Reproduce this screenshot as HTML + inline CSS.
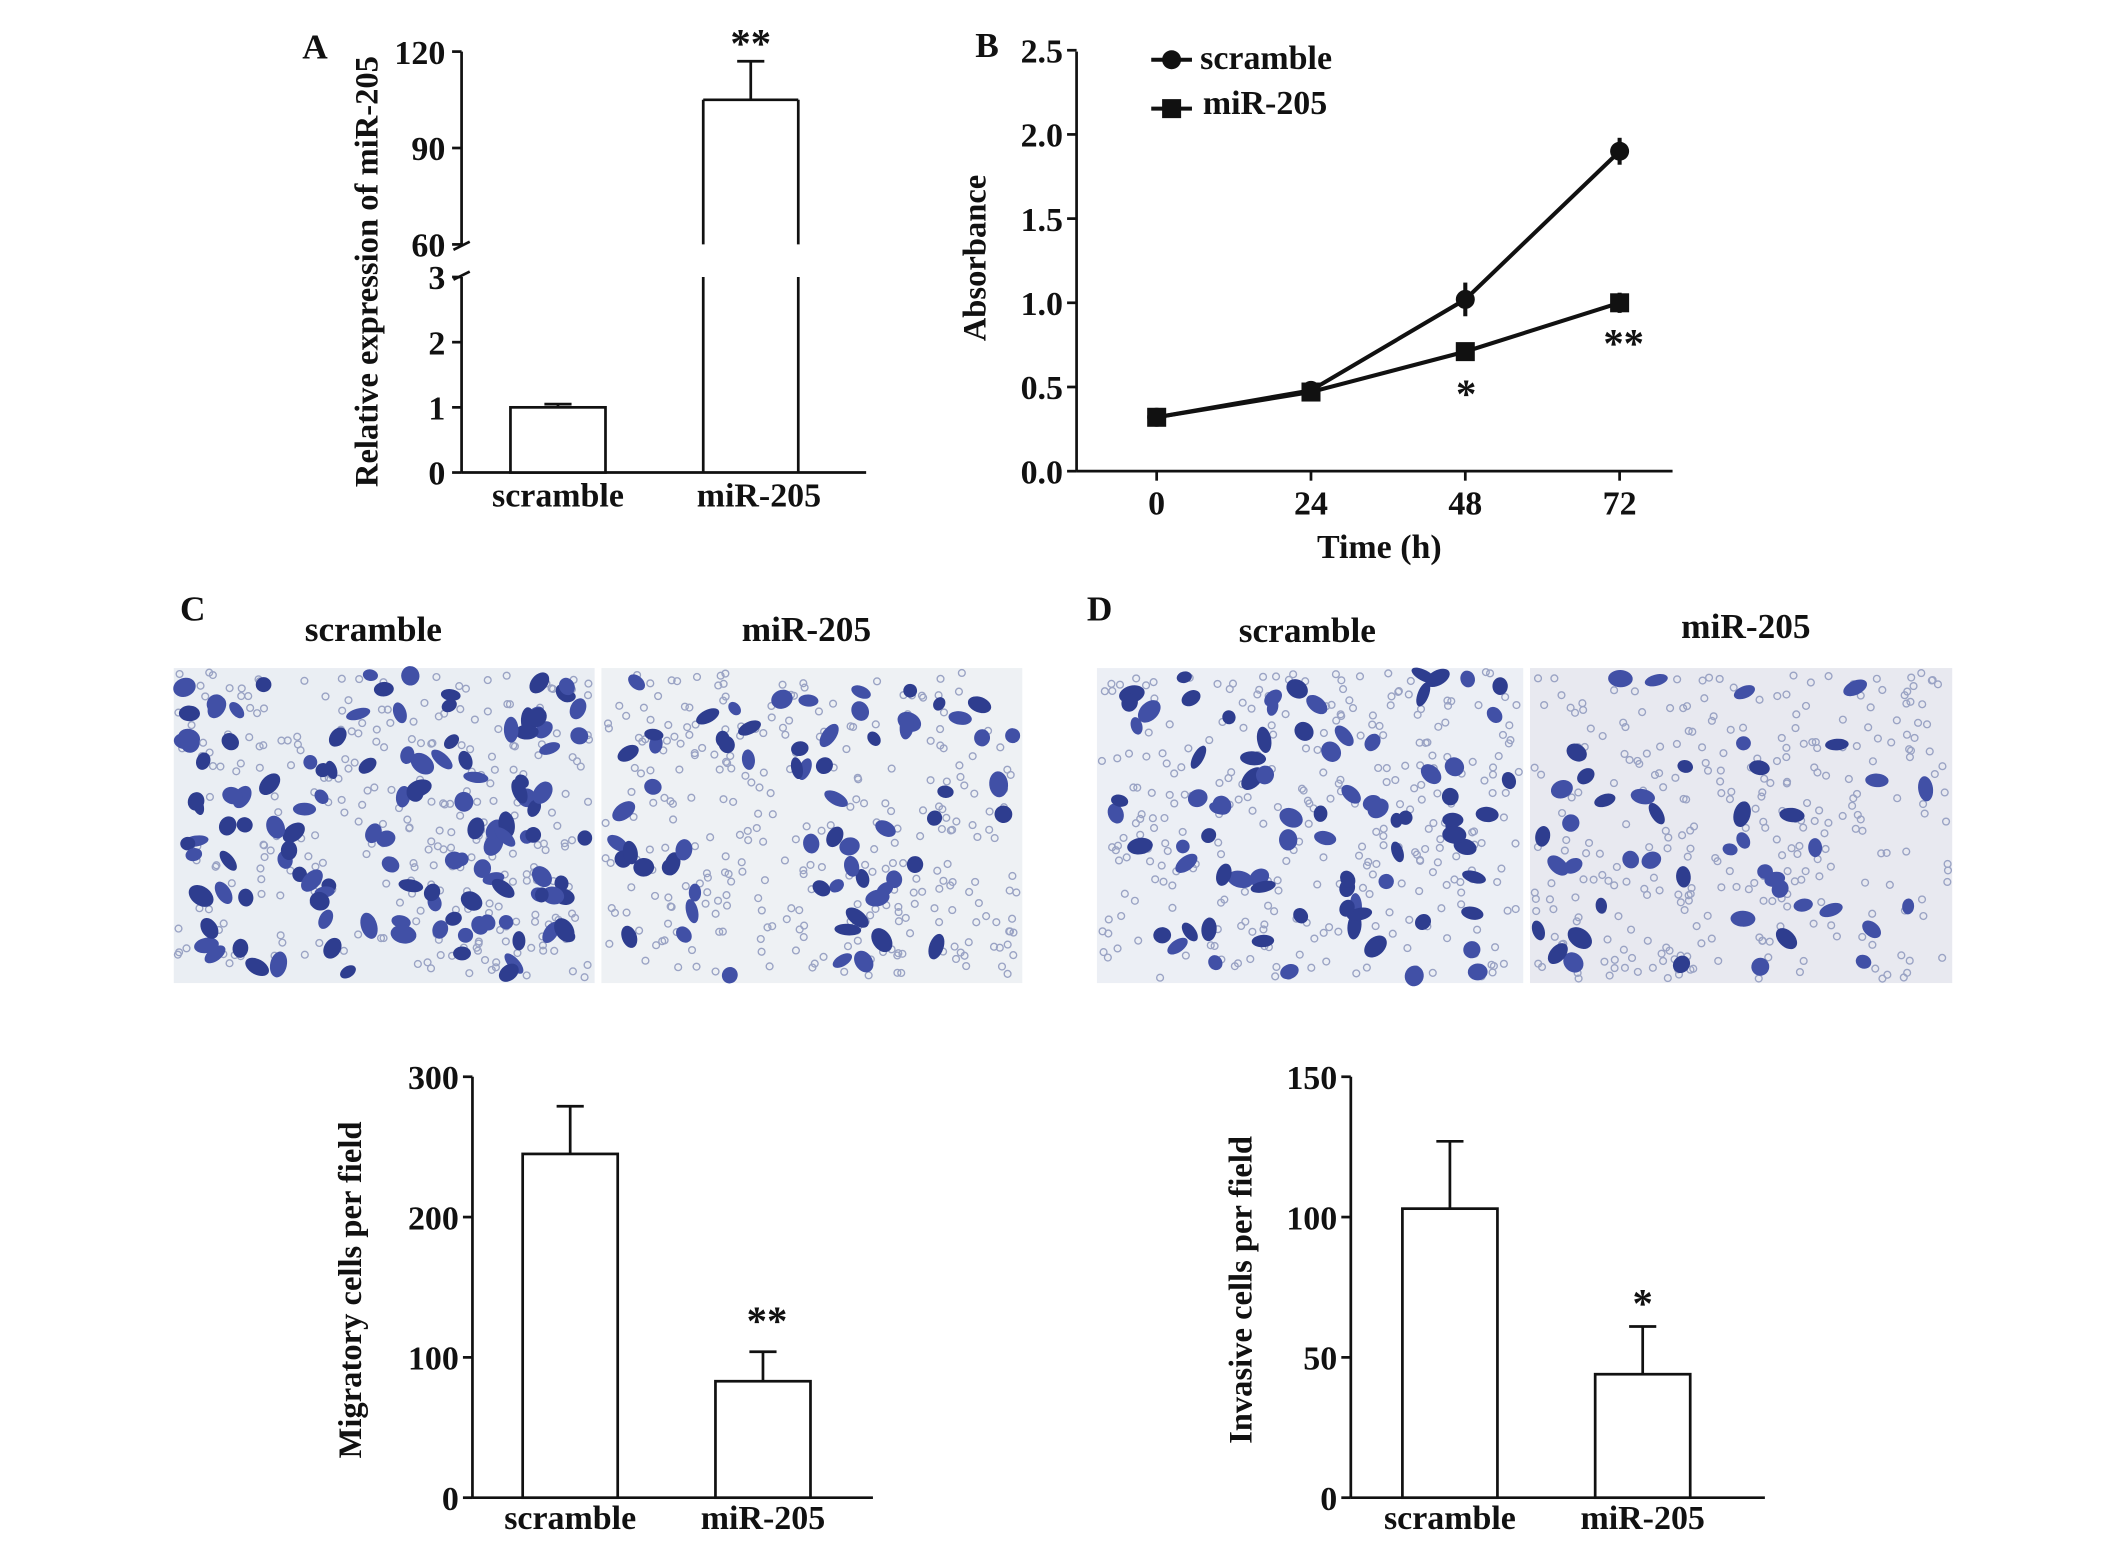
<!DOCTYPE html>
<html><head><meta charset="utf-8">
<style>
html,body{margin:0;padding:0;background:#fff;}
svg{display:block;}
text{font-family:"Liberation Serif",serif;font-weight:bold;fill:#111;}
</style></head>
<body>
<svg id="fig" width="2126" height="1552" viewBox="0 0 1566 1143" preserveAspectRatio="none" xmlns="http://www.w3.org/2000/svg">
<g id="gA"></g>
<g id="gB"></g>
<g id="gImg"></g>
<g id="gC"></g>
<g id="gD"></g>
</svg>
<script>
// ---- data ----
const groups = ["scramble", "miR-205"];
const exprValues = [1.0, 105];
const exprErrors = [0.05, 12];
const timePoints = [0, 24, 48, 72];
const absScramble = [0.32, 0.48, 1.02, 1.90];
const absScrambleErr = [0.03, 0.03, 0.10, 0.08];
const absMir = [0.32, 0.47, 0.71, 1.00];
const absMirErr = [0.03, 0.03, 0.03, 0.06];
const absTicks = ["0.0", "0.5", "1.0", "1.5", "2.0", "2.5"];
const migValues = [245, 83];
const migErrors = [34, 21];
const migTicks = [0, 100, 200, 300];
const invValues = [103, 44];
const invErrors = [24, 17];
const invTicks = [0, 50, 100, 150];

const NS = "http://www.w3.org/2000/svg";
const FS = 25;
function mk(parent, tag, attrs, txt) {
  const e = document.createElementNS(NS, tag);
  for (const k in attrs) e.setAttribute(k, attrs[k]);
  if (txt !== undefined) e.textContent = txt;
  parent.appendChild(e);
  return e;
}
function line(p, x1, y1, x2, y2, w) { return mk(p, "line", {x1, y1, x2, y2, stroke: "#111", "stroke-width": w || 2}); }
function txt(p, x, y, s, size, anchor, name) {
  const t = mk(p, "text", {x, y, "font-size": size, "text-anchor": anchor || "middle"}, s);
  
  
  return t;
}

// ---- Panel A ----
(function () {
  const g = document.getElementById("gA");
  const ax = 340;
  const yLow = v => 348 - v * 48;
  const yHigh = v => 180 - (v - 60) * (142 / 60);
  const yv = v => v <= 3 ? yLow(v) : yHigh(v);
  txt(g, 232, 43, "A", 26, "middle", "panel-a-label");
  line(g, ax, 38, ax, 180); line(g, ax, 204, ax, 348);
  line(g, ax, 348, 638, 348);
  line(g, ax - 6, 184, ax + 6, 178); line(g, ax - 6, 206, ax + 6, 200);
  [0, 1, 2, 3].forEach(v => { line(g, ax - 7, yLow(v), ax, yLow(v)); txt(g, ax - 12, yLow(v) + 9, String(v), FS, "end", "y-tick-label"); });
  [60, 90, 120].forEach(v => { line(g, ax - 7, yHigh(v), ax, yHigh(v)); txt(g, ax - 12, yHigh(v) + 9, String(v), FS, "end", "y-tick-label"); });
  const t = txt(g, 0, 0, "Relative expression of miR-205", 24, "middle", "y-axis-title");
  t.setAttribute("transform", "translate(278,200) rotate(-90)");
  const cx = [411, 553];
  groups.forEach((nm, i) => {
    const v = exprValues[i], e = exprErrors[i];
    const x0 = cx[i] - 35, x1 = cx[i] + 35;
    const b = mk(g, "g", {});
    
    
    if (v <= 3) {
      mk(b, "rect", {x: x0, y: yLow(v), width: 70, height: 348 - yLow(v), fill: "#fff", stroke: "#111", "stroke-width": 2});
    } else {
      line(b, x0, yHigh(v), x1, yHigh(v)); line(b, x0, yHigh(v), x0, 180); line(b, x1, yHigh(v), x1, 180);
      line(b, x0, 204, x0, 348); line(b, x1, 204, x1, 348);
    }
    const yt = yv(v + e);
    line(b, cx[i], yv(v), cx[i], yt); line(b, cx[i] - 10, yt, cx[i] + 10, yt);
    txt(g, cx[i] + (i ? 6 : 0), 373, nm, FS, "middle", "x-tick-label");
  });
  txt(g, 553, 42, "**", 30, "middle", "significance-marker");
})();

// ---- Panel B ----
(function () {
  const g = document.getElementById("gB");
  const ax = 793, y0 = 347;
  const ys = v => y0 - v * 124;
  const xs = t => 852 + t * (341 / 72);
  txt(g, 727, 42, "B", 26, "middle", "panel-b-label");
  line(g, ax, 38, ax, y0); line(g, ax, y0, 1232, y0);
  absTicks.forEach(s => { const y = ys(parseFloat(s)); line(g, ax - 7, y, ax, y); txt(g, ax - 10, y + 9, s, FS, "end", "y-tick-label"); });
  timePoints.forEach(t => { line(g, xs(t), y0, xs(t), y0 + 7); txt(g, xs(t), y0 + 32, String(t), FS, "middle", "x-tick-label"); });
  txt(g, 1016, 411, "Time (h)", FS, "middle", "x-axis-title");
  const t = txt(g, 0, 0, "Absorbance", 24, "middle", "y-axis-title");
  t.setAttribute("transform", "translate(726,190) rotate(-90)");
  function series(vals, errs, shape, name) {
    const s = mk(g, "g", {});
    
    
    mk(s, "polyline", {points: vals.map((v, i) => xs(timePoints[i]) + "," + ys(v)).join(" "), fill: "none", stroke: "#111", "stroke-width": 3});
    vals.forEach((v, i) => {
      const x = xs(timePoints[i]), y = ys(v), e = errs[i] * 124;
      line(s, x, y - e, x, y + e, 3);
      if (shape === "c") mk(s, "circle", {cx: x, cy: y, r: 7, fill: "#111"});
      else mk(s, "rect", {x: x - 7, y: y - 7, width: 14, height: 14, fill: "#111"});
    });
  }
  series(absScramble, absScrambleErr, "c", "scramble");
  series(absMir, absMirErr, "s", "mir-205");
  const lg = mk(g, "g", {});
  
  
  line(lg, 848, 44, 878, 44, 3); mk(lg, "circle", {cx: 863, cy: 44, r: 7, fill: "#111"});
  txt(lg, 884, 51, "scramble", FS, "start", "legend-entry-scramble");
  line(lg, 848, 80, 878, 80, 3); mk(lg, "rect", {x: 856, y: 73, width: 14, height: 14, fill: "#111"});
  txt(lg, 886, 84, "miR-205", FS, "start", "legend-entry-mir-205");
  txt(g, 1080, 300, "*", 30, "middle", "significance-marker");
  txt(g, 1196, 263, "**", 30, "middle", "significance-marker");
})();

// ---- micrographs ----
(function () {
  const g = document.getElementById("gImg");
  txt(g, 142, 457, "C", 26, "middle", "panel-c-label");
  txt(g, 275, 472, "scramble", 26, "middle", "image-title");
  txt(g, 594, 472, "miR-205", 26, "middle", "image-title");
  txt(g, 810, 457, "D", 26, "middle", "panel-d-label");
  txt(g, 963, 473, "scramble", 26, "middle", "image-title");
  txt(g, 1286, 470, "miR-205", 26, "middle", "image-title");
  const panels = [[128, 310, 130, "#eaeef3"], [443, 310, 65, "#eef1f4"], [808, 314, 80, "#eceff5"], [1127, 311, 45, "#e8e9f0"]];
  let seed = 7;
  const rnd = () => { seed = (seed * 16807) % 2147483647; return seed / 2147483647; };
  panels.forEach((p, k) => {
    const im = mk(g, "g", {});
    
    
    mk(im, "rect", {x: p[0], y: 492, width: p[1], height: 232, fill: p[3]});
    for (let i = 0; i < 300; i++) {
      mk(im, "circle", {cx: p[0] + 3 + rnd() * (p[1] - 6), cy: 495 + rnd() * 226, r: 2.5, fill: "none", stroke: "#9aa3c4", "stroke-width": 1});
    }
    for (let i = 0; i < p[2]; i++) {
      const cx = p[0] + 6 + rnd() * (p[1] - 12), cy = 497 + rnd() * 222;
      const rx = 5 + rnd() * 5, ry = 4 + rnd() * 3, a = rnd() * 180;
      mk(im, "ellipse", {cx, cy, rx, ry, fill: rnd() < 0.5 ? "#2e3d8f" : "#4150a6", transform: `rotate(${a} ${cx} ${cy})`});
    }
  });
})();

// ---- bar charts C, D ----
function barChart(gid, ax, xEnd, ticks, vals, errs, title, titleX, cx, stars, starX, starY) {
  const g = document.getElementById(gid);
  const y0 = 1103, top = 793, max = ticks[ticks.length - 1];
  const ys = v => y0 - v / max * (y0 - top);
  line(g, ax, top, ax, y0); line(g, ax, y0, xEnd, y0);
  ticks.forEach(v => { line(g, ax - 7, ys(v), ax, ys(v)); txt(g, ax - 10, ys(v) + 9, String(v), FS, "end", "y-tick-label"); });
  const t = txt(g, 0, 0, title, 24, "middle", "y-axis-title");
  t.setAttribute("transform", `translate(${titleX},950) rotate(-90)`);
  groups.forEach((nm, i) => {
    const b = mk(g, "g", {});
    
    
    const y = ys(vals[i]), ye = ys(vals[i] + errs[i]);
    mk(b, "rect", {x: cx[i] - 35, y, width: 70, height: y0 - y, fill: "#fff", stroke: "#111", "stroke-width": 2});
    line(b, cx[i], y, cx[i], ye); line(b, cx[i] - 10, ye, cx[i] + 10, ye);
    txt(g, cx[i], 1126, nm, FS, "middle", "x-tick-label");
  });
  txt(g, starX, starY, stars, 30, "middle", "significance-marker");
}
barChart("gC", 348, 643, migTicks, migValues, migErrors, "Migratory cells per field", 266, [420, 562], "**", 565, 983);
barChart("gD", 995, 1300, invTicks, invValues, invErrors, "Invasive cells per field", 922, [1068, 1210], "*", 1210, 970);
</script>
</body></html>
